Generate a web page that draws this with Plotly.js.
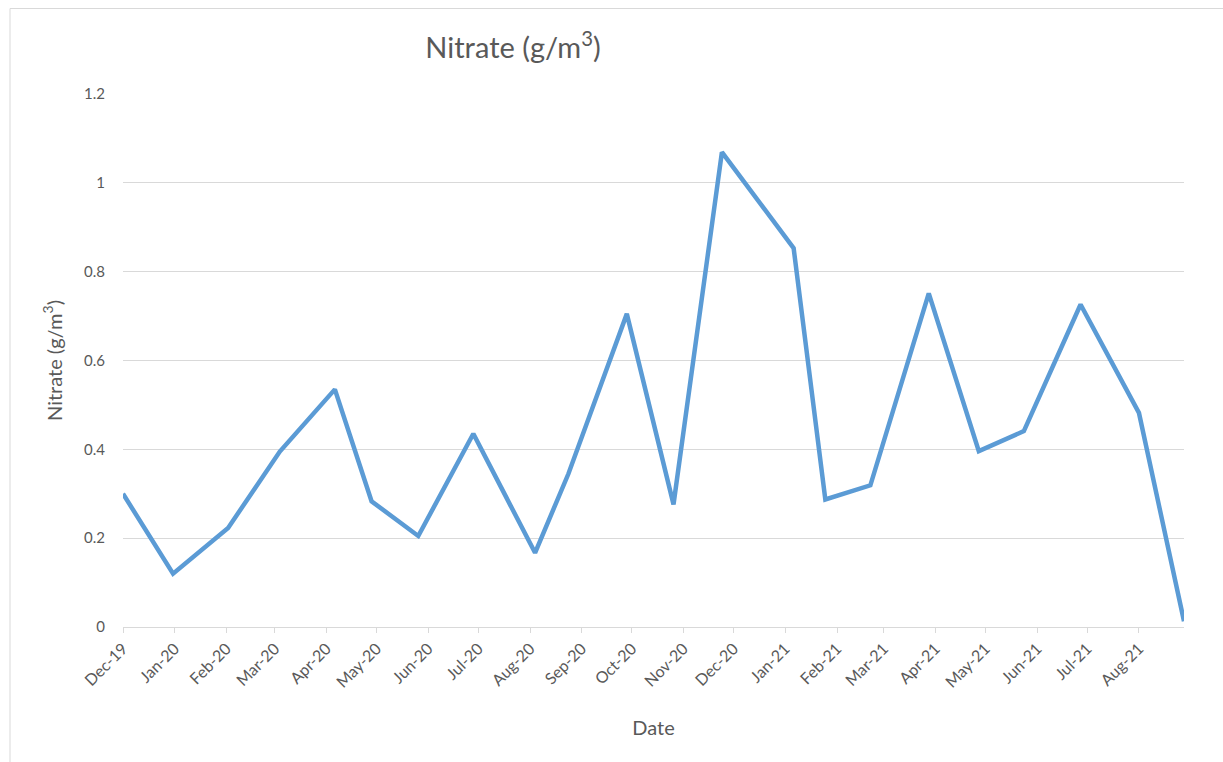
<!DOCTYPE html>
<html>
<head>
<meta charset="utf-8">
<script src="https://cdn.plot.ly/plotly-3.0.1.min.js"></script>
<style>
html,body{margin:0;padding:0;background:#fff;}
#chart{width:1223px;height:762px;}
</style>
</head>
<body>
<div id="chart"></div>
<script>
// Sample dates and nitrate values (g/m3)
const dates = [
  "2019-12-01","2019-12-31","2020-02-02","2020-03-04","2020-04-06","2020-04-28",
  "2020-05-26","2020-06-28","2020-08-04","2020-08-24","2020-09-28","2020-10-26",
  "2020-11-24","2021-01-06","2021-01-25","2021-02-21","2021-03-28","2021-04-27",
  "2021-05-24","2021-06-27","2021-08-01","2021-08-28"
];
const nitrate = [
  0.30, 0.12, 0.223, 0.395, 0.535, 0.283,
  0.205, 0.435, 0.167, 0.345, 0.705, 0.276,
  1.069, 0.853, 0.287, 0.319, 0.751, 0.396,
  0.441, 0.726, 0.482, 0.013
];
const tickDates = [
  "2019-12-01","2020-01-01","2020-02-01","2020-03-01","2020-04-01","2020-05-01",
  "2020-06-01","2020-07-01","2020-08-01","2020-09-01","2020-10-01","2020-11-01",
  "2020-12-01","2021-01-01","2021-02-01","2021-03-01","2021-04-01","2021-05-01",
  "2021-06-01","2021-07-01","2021-08-01"
];
const tickLabels = [
  "Dec-19","Jan-20","Feb-20","Mar-20","Apr-20","May-20",
  "Jun-20","Jul-20","Aug-20","Sep-20","Oct-20","Nov-20",
  "Dec-20","Jan-21","Feb-21","Mar-21","Apr-21","May-21",
  "Jun-21","Jul-21","Aug-21"
];
const yTicks = [0, 0.2, 0.4, 0.6, 0.8, 1, 1.2];
const yTickText = ["0","0.2","0.4","0.6","0.8","1","1.2"];

const W = 1223, H = 762;
const M = {l:123, r:39, t:94, b:135};
const pw = W - M.l - M.r, ph = H - M.t - M.b;
function px2paperX(x){ return (x - M.l) / pw; }
function px2paperY(y){ return (H - M.b - y) / ph; }

const font = "Lato, 'Open Sans', 'Liberation Sans', sans-serif";
const grey = "#595959";

const trace = {
  x: dates,
  y: nitrate,
  type: "scatter",
  mode: "lines",
  line: {color: "#5b9bd5", width: 4.5, shape: "linear"},
  hoverinfo: "x+y"
};

const layout = {
  width: W, height: H,
  margin: M,
  paper_bgcolor: "#ffffff",
  plot_bgcolor: "#ffffff",
  showlegend: false,
  font: {family: font, color: grey, size: 15},
  title: {
    text: "Nitrate (g/m<sup>3</sup>)",
    font: {family: font, size: 29, color: grey},
    xref: "paper", x: px2paperX(513), xanchor: "center",
    yref: "container", y: 1 - 48/H, yanchor: "middle"
  },
  xaxis: {
    type: "date",
    range: ["2019-12-01", "2021-08-28"],
    tickmode: "array",
    tickvals: tickDates,
    ticktext: tickLabels,
    tickangle: -45,
    ticks: "outside",
    ticklen: 5,
    tickcolor: "#d9d9d9",
    showline: true,
    linecolor: "#d9d9d9",
    linewidth: 1,
    showgrid: false,
    zeroline: false,
    tickfont: {family: font, size: 16, color: grey},
    title: {text: "Date", font: {family: font, size: 20, color: grey}, standoff: 31}
  },
  yaxis: {
    range: [0, 1.2],
    tickmode: "array",
    tickvals: yTicks,
    ticktext: yTickText,
    showgrid: true,
    gridcolor: "#d9d9d9",
    gridwidth: 1,
    zeroline: false,
    showline: false,
    ticks: "",
    ticklabelstandoff: 17,
    tickfont: {family: font, size: 15, color: grey},
    title: {text: "Nitrate (g/m<sup>3</sup>)", font: {family: font, size: 20, color: grey}, standoff: 16}
  },
  shapes: [
    {type: "line", xref: "paper", yref: "paper",
     x0: px2paperX(10), x1: px2paperX(10), y0: px2paperY(8.5), y1: px2paperY(770),
     line: {color: "#d9d9d9", width: 1}},
    {type: "line", xref: "paper", yref: "paper",
     x0: px2paperX(10), x1: px2paperX(1230), y0: px2paperY(8.5), y1: px2paperY(8.5),
     line: {color: "#d9d9d9", width: 1}}
  ]
};

Plotly.newPlot("chart", [trace], layout, {displayModeBar: false});
</script>
</body>
</html>
